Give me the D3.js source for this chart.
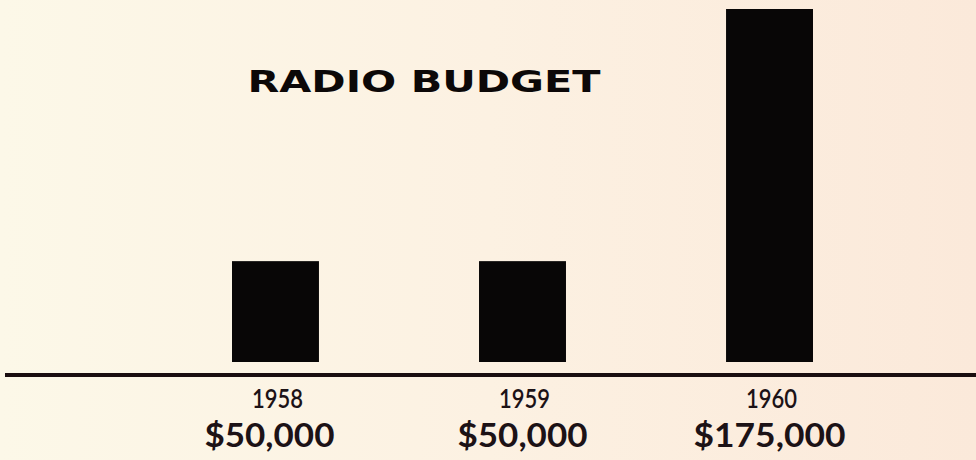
<!DOCTYPE html>
<html>
<head>
<meta charset="utf-8">
<script src="https://cdn.jsdelivr.net/npm/d3@7"></script>
<style>
html,body{margin:0;padding:0;background:#fcf2e4;}
svg{display:block;}
</style>
</head>
<body>
<svg id="chart" width="976" height="460"></svg>
<script>
const years = ["1958", "1959", "1960"];
const budgets = [50000, 50000, 175000];
const budgetLabels = ["$50,000", "$50,000", "$175,000"];
const title = "RADIO BUDGET";

const W = 976, H = 460;
const svg = d3.select("#chart");

const defs = svg.append("defs");
const grad = defs.append("linearGradient").attr("id", "bg").attr("x1", "0").attr("x2", "1").attr("y1", "0").attr("y2", "0");
grad.append("stop").attr("offset", "0").attr("stop-color", "#fcf8e8");
grad.append("stop").attr("offset", "0.5").attr("stop-color", "#fcf1e2");
grad.append("stop").attr("offset", "1").attr("stop-color", "#fbe9da");
svg.append("rect").attr("width", W).attr("height", H).attr("fill", "url(#bg)");

const x = d3.scaleBand().domain(years).range([232, 813]).paddingInner(0.648).paddingOuter(0);
const y = d3.scaleLinear().domain([0, 175000]).range([362, 9]);

svg.append("g").selectAll("rect").data(years).join("rect")
  .attr("x", d => x(d))
  .attr("width", x.bandwidth())
  .attr("y", (d, i) => y(budgets[i]))
  .attr("height", (d, i) => y(0) - y(budgets[i]))
  .attr("fill", "#080606");

svg.append("line").attr("x1", 5).attr("x2", W).attr("y1", 375).attr("y2", 375)
  .attr("stroke", "#1a0e10").attr("stroke-width", 4);

svg.append("g").selectAll("text").data(years).join("text")
  .attr("x", d => x(d) + x.bandwidth() / 2 + 2)
  .attr("y", 408)
  .attr("text-anchor", "middle")
  .attr("font-family", "Lato, 'Open Sans', sans-serif")
  .attr("font-weight", 600)
  .attr("font-size", 26)
  .attr("textLength", 51).attr("lengthAdjust", "spacingAndGlyphs")
  .attr("fill", "#1c1216")
  .text(d => d);

svg.append("g").selectAll("text").data(budgetLabels).join("text")
  .attr("x", (d, i) => x(years[i]) + x.bandwidth() / 2 + (i === 0 ? -6 : 0))
  .attr("y", 447)
  .attr("text-anchor", "middle")
  .attr("font-family", "Lato, 'Open Sans', sans-serif")
  .attr("font-weight", 700)
  .attr("font-size", 33)
  .attr("textLength", d => d.length === 7 ? 130 : 152)
  .attr("lengthAdjust", "spacingAndGlyphs")
  .attr("fill", "#1c1216")
  .text(d => d);

svg.append("text")
  .attr("x", 424).attr("y", 92)
  .attr("text-anchor", "middle")
  .attr("font-family", "'DejaVu Sans', Verdana, sans-serif")
  .attr("font-weight", 700)
  .attr("font-size", 30)
  .attr("textLength", 353).attr("lengthAdjust", "spacingAndGlyphs")
  .attr("fill", "#0c0808")
  .text(title);
</script>
</body>
</html>
